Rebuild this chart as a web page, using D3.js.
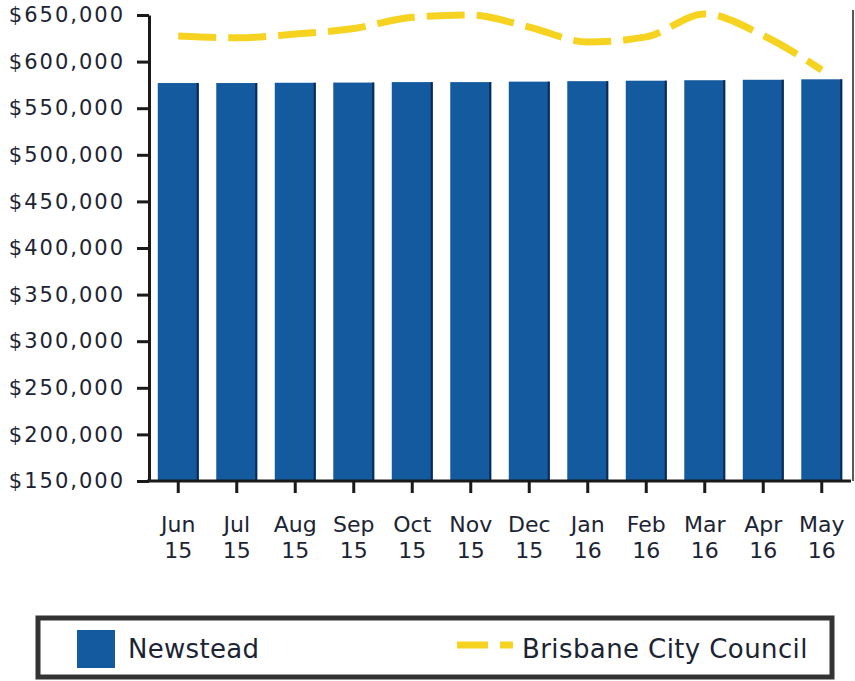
<!DOCTYPE html>
<html lang="en">
  <head>
    <meta charset="utf-8">
    <title>Newstead median price</title>
    <style>
      body { margin: 0; background: #fff; }
      text { font-family: "DejaVu Sans", Verdana, sans-serif; fill: #1c2433; }
    </style>
  </head>
  <body>
    <script src="https://d3js.org/d3.v7.min.js"></script>
    <script>
    const w = 855
    const h = 681

    // data
    const months = ["Jun", "Jul", "Aug", "Sep", "Oct", "Nov", "Dec", "Jan", "Feb", "Mar", "Apr", "May"]
    const years = ["15", "15", "15", "15", "15", "15", "15", "16", "16", "16", "16", "16"]
    const newstead = [577000, 577000, 577300, 577500, 578000, 578000, 578500, 579000, 579500, 580000, 580500, 581000]
    const brisbane = [627500, 625500, 629500, 635500, 647500, 650000, 637000, 621000, 626500, 651000, 628000, 591000]
    const yTicks = [150000, 200000, 250000, 300000, 350000, 400000, 450000, 500000, 550000, 600000, 650000]
    const seriesNames = ["Newstead", "Brisbane City Council"]

    const blue = "#135a9f"
    const yellow = "#f6d321"
    const plotL = 149, plotR = 851, plotT = 15, plotB = 481

    const svg = d3.select("body").append("svg")
      .attr("width", w)
      .attr("height", h)

    const keys = months.map((m, i) => m + " " + years[i])

    const x = d3.scaleBand()
      .domain(keys)
      .range([plotL, plotR])
      .paddingInner(0.3)
      .paddingOuter(0.15)

    const y = d3.scaleLinear()
      .domain([150000, 650000])
      .range([plotB, plotT])

    // bars
    svg.selectAll("rect.bar")
      .data(newstead)
      .enter().append("rect")
      .attr("class", "bar")
      .attr("x", (d, i) => x(keys[i]))
      .attr("y", d => y(d))
      .attr("width", x.bandwidth())
      .attr("height", d => y(150000) - y(d))
      .attr("fill", blue)

    // dark right edge on each bar
    svg.selectAll("rect.edge")
      .data(newstead)
      .enter().append("rect")
      .attr("class", "edge")
      .attr("x", (d, i) => x(keys[i]) + x.bandwidth() - 2)
      .attr("y", d => y(d))
      .attr("width", 2)
      .attr("height", d => y(150000) - y(d))
      .attr("fill", "#0b2a55")

    // council line
    const line = d3.line()
      .x((d, i) => x(keys[i]) + x.bandwidth() / 2)
      .y(d => y(d))
      .curve(d3.curveMonotoneX)

    svg.append("path")
      .datum(brisbane)
      .attr("d", line)
      .attr("fill", "none")
      .attr("stroke", yellow)
      .attr("stroke-width", 7)
      .attr("stroke-dasharray", "38,12")

    // axes
    const yAxis = d3.axisLeft(y)
      .tickValues(yTicks)
      .tickSize(12)
      .tickSizeOuter(0)
      .tickPadding(12)
      .tickFormat(d => "$" + d3.format(",")(d))

    const gy = svg.append("g")
      .attr("transform", `translate(${plotL}, 0)`)
      .call(yAxis)
    gy.selectAll("text")
      .style("font-size", "21px")
      .style("letter-spacing", "2px")
      .attr("fill", "#1c2433")
    gy.selectAll("line, path").attr("stroke", "#1a1a1a").attr("stroke-width", 3)

    const xAxis = d3.axisBottom(x)
      .tickSize(12)
      .tickSizeOuter(0)
      .tickFormat("")

    const gx = svg.append("g")
      .attr("transform", `translate(0, ${plotB})`)
      .call(xAxis)
    gx.selectAll("line, path").attr("stroke", "#1a1a1a").attr("stroke-width", 3)
    gx.select("path.domain").attr("d", `M${plotL - 2},0H${plotR}`)

    gx.selectAll(".tick").each(function (d, i) {
      const t = d3.select(this).append("text")
        .attr("text-anchor", "middle")
        .style("font-size", "22px")
        .attr("fill", "#1c2433")
      t.append("tspan").attr("x", 0).attr("y", 51).text(months[i])
      t.append("tspan").attr("x", 0).attr("y", 77).text(years[i])
    })

    // right frame edge
    svg.append("line")
      .attr("x1", 853).attr("x2", 853)
      .attr("y1", 10).attr("y2", plotB)
      .attr("stroke", "#222")
      .attr("stroke-width", 1.5)

    // legend
    const legend = svg.append("g").attr("id", "legend")

    legend.append("rect")
      .attr("x", 38).attr("y", 618)
      .attr("width", 794).attr("height", 59)
      .attr("fill", "#fff")
      .attr("stroke", "#333")
      .attr("stroke-width", 5)

    legend.append("rect")
      .attr("x", 77).attr("y", 630)
      .attr("width", 38).attr("height", 38)
      .attr("fill", blue)

    legend.append("text")
      .attr("x", 128).attr("y", 658)
      .style("font-size", "26px")
      .style("letter-spacing", "0.3px")
      .text(seriesNames[0])

    legend.append("line")
      .attr("x1", 457).attr("x2", 513)
      .attr("y1", 645).attr("y2", 645)
      .attr("stroke", yellow)
      .attr("stroke-width", 7)
      .attr("stroke-dasharray", "31,12")

    legend.append("text")
      .attr("x", 522).attr("y", 658)
      .style("font-size", "26px")
      .style("letter-spacing", "0.4px")
      .text(seriesNames[1])
    </script>
  </body>
</html>
